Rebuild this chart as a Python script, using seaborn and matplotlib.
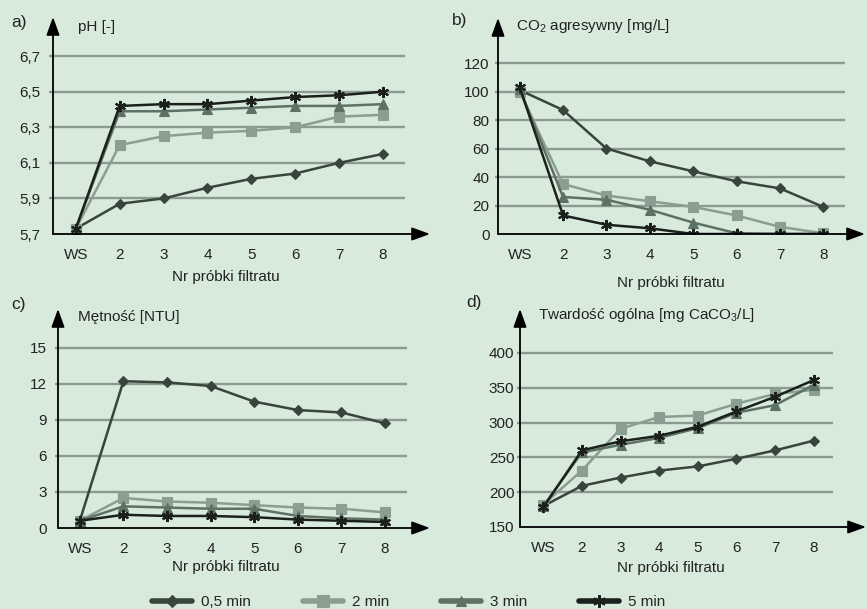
import numpy as np
import pandas as pd
import matplotlib
matplotlib.use('Agg')
import matplotlib.pyplot as plt
import seaborn as sns
from matplotlib.lines import Line2D

# Dane
kategorie = ['WS', '2', '3', '4', '5', '6', '7', '8']
serie = ['0,5 min', '2 min', '3 min', '5 min']

ph_05 = [5.73, 5.87, 5.90, 5.96, 6.01, 6.04, 6.10, 6.15]
ph_2 = [5.73, 6.20, 6.25, 6.27, 6.28, 6.30, 6.36, 6.37]
ph_3 = [5.73, 6.39, 6.39, 6.40, 6.41, 6.42, 6.42, 6.43]
ph_5 = [5.73, 6.42, 6.43, 6.43, 6.45, 6.47, 6.48, 6.50]

co2_05 = [101, 87, 60, 51, 44, 37, 32, 19]
co2_2 = [100, 35, 27, 23, 19, 13, 5, 0.5]
co2_3 = [102, 26, 24, 17, 8, 0.5, 0, 0]
co2_5 = [103, 13, 6.5, 4, 0, 0, 0, 0]

mut_05 = [0.6, 12.2, 12.1, 11.8, 10.5, 9.8, 9.6, 8.7]
mut_2 = [0.6, 2.5, 2.2, 2.1, 1.9, 1.7, 1.6, 1.3]
mut_3 = [0.6, 1.8, 1.7, 1.6, 1.6, 1.0, 0.8, 0.7]
mut_5 = [0.6, 1.1, 1.0, 1.0, 0.9, 0.7, 0.6, 0.5]

tw_05 = [180, 209, 221, 231, 237, 248, 260, 274]
tw_2 = [182, 231, 291, 308, 310, 327, 341, 347]
tw_3 = [180, 257, 268, 278, 292, 314, 325, 354]
tw_5 = [178, 260, 273, 281, 294, 316, 337, 361]

kolory = {'0,5 min': '#38453d', '2 min': '#8a9f91', '3 min': '#5d7264', '5 min': '#1b201d'}
markery = {'0,5 min': 'D', '2 min': 's', '3 min': '^', '5 min': 'X'}
rozmiary = {'0,5 min': 5.5, '2 min': 7.5, '3 min': 6.5, '5 min': 8}
gwiazdka = (6, 2, 0)  # marker serii 5 min

tlo = '#d7eadc'
siatka = '#8c9b90'

sns.set_style('white')
plt.rcParams['font.family'] = ['Liberation Sans', 'DejaVu Sans']
plt.rcParams['mathtext.fontset'] = 'custom'
plt.rcParams['mathtext.rm'] = 'Liberation Sans'

W, H = 867, 609
fig = plt.figure(figsize=(W / 100, H / 100), dpi=100, facecolor=tlo)


def panel_df(values):
    rows = []
    for s, vals in zip(serie, values):
        for i, v in enumerate(vals):
            rows.append({'nr': i, 'seria': s, 'wartosc': v})
    return pd.DataFrame(rows)


def px_axes(l, t, r, b):
    ax = fig.add_axes([l / W, 1 - b / H, (r - l) / W, (b - t) / H])
    ax.set_facecolor('none')
    return ax


def ftext(x, y, s, **kw):
    fig.text(x / W, 1 - y / H, s, **kw)


def draw_panel(ax, values, yticks, ylabels, xlim, ylim, ypad):
    df = panel_df(values)
    sns.lineplot(data=df, x='nr', y='wartosc', hue='seria', style='seria',
                 palette=kolory, markers=markery, dashes=False, lw=1.8,
                 ax=ax, legend=False, zorder=3)
    for line, s in zip(ax.lines, serie):
        c = kolory[s]
        if s == '5 min':
            line.set_marker(gwiazdka)
        line.set_markeredgecolor(c)
        line.set_markerfacecolor(c)
        line.set_markersize(rozmiary[s])
        line.set_markeredgewidth(1.5 if s == '5 min' else 0.8)
    ax.set_xlim(*xlim)
    ax.set_ylim(*ylim)
    for sp in ax.spines.values():
        sp.set_visible(False)
    # linie siatki
    ax.hlines(yticks[1:], xlim[0] - 0.08, 7.5, color=siatka, lw=1.7,
              zorder=1, clip_on=False)
    # osie ze strzalkami
    ax.annotate('', xy=(1, 0), xytext=(0, 0), xycoords='axes fraction',
                arrowprops=dict(arrowstyle='-|>,head_length=0.55,head_width=0.2',
                                color='black', lw=1.3, mutation_scale=20,
                                shrinkA=0, shrinkB=0))
    ax.annotate('', xy=(0, 1), xytext=(0, 0), xycoords='axes fraction',
                arrowprops=dict(arrowstyle='-|>,head_length=0.55,head_width=0.2',
                                color='black', lw=1.3, mutation_scale=20,
                                shrinkA=0, shrinkB=0))
    ax.set_xticks(range(len(kategorie)))
    ax.set_xticklabels(kategorie)
    ax.set_xticks(np.arange(0.5, 8, 1), minor=True)
    ax.tick_params(axis='x', which='major', length=0, pad=10, labelsize=11,
                   colors='#222222')
    ax.tick_params(axis='x', which='minor', length=3, width=0.8,
                   color='#8a8f8a', direction='out')
    ax.set_yticks(yticks)
    ax.set_yticklabels(ylabels)
    ax.tick_params(axis='y', length=0, pad=ypad, labelsize=11, colors='#222222')
    ax.set_xlabel('')
    ax.set_ylabel('')


# a) pH
ax_a = px_axes(53, 17, 430, 234)
draw_panel(ax_a, [ph_05, ph_2, ph_3, ph_5],
           [5.7, 5.9, 6.1, 6.3, 6.5, 6.7],
           ['5,7', '5,9', '6,1', '6,3', '6,5', '6,7'],
           (-0.52, 8.07), (5.7, 6.92), 9)

# b) CO2
ax_b = px_axes(498, 18, 865, 234)
draw_panel(ax_b, [co2_05, co2_2, co2_3, co2_5],
           [0, 20, 40, 60, 80, 100, 120],
           ['0', '20', '40', '60', '80', '100', '120'],
           (-0.5, 7.96), (0, 151.6), 6)

# c) metnosc
ax_c = px_axes(58, 309, 430, 528)
draw_panel(ax_c, [mut_05, mut_2, mut_3, mut_5],
           [0, 3, 6, 9, 12, 15],
           ['0', '3', '6', '9', '12', '15'],
           (-0.5, 8.03), (0, 18.2), 8)

# d) twardosc
ax_d = px_axes(520, 309, 866, 527)
draw_panel(ax_d, [tw_05, tw_2, tw_3, tw_5],
           [150, 200, 250, 300, 350, 400],
           ['150', '200', '250', '300', '350', '400'],
           (-0.6, 8.35), (150, 463), 4)

# opisy
lit = dict(fontsize=12.5, color='#222222', va='center', ha='left')
ftext(11, 22, 'a)', **lit)
ftext(452, 21, 'b)', **lit)
ftext(11, 304, 'c)', **lit)
ftext(466, 303, 'd)', **lit)

opis = dict(fontsize=11, color='#222222', va='center', ha='left')
ftext(78, 27, 'pH [-]', **opis)
ftext(516, 26, r'CO$_{\mathregular{2}}$ agresywny [mg/L]', **opis)
ftext(78, 317, 'Mętność [NTU]', **opis)
ftext(538, 315, r'Twardość ogólna [mg CaCO$_{\mathregular{3}}$/L]', **opis)

xl = dict(fontsize=11, color='#222222', va='center', ha='center')
ftext(226, 277, 'Nr próbki filtratu', **xl)
ftext(671, 283, 'Nr próbki filtratu', **xl)
ftext(226, 567, 'Nr próbki filtratu', **xl)
ftext(671, 568, 'Nr próbki filtratu', **xl)

# legenda
uchwyty = []
for s in serie:
    m = gwiazdka if s == '5 min' else markery[s]
    uchwyty.append(Line2D([0], [0], color=kolory[s], lw=4, marker=m,
                          ms=rozmiary[s] + 1, mec=kolory[s], mfc=kolory[s],
                          mew=1.5 if s == '5 min' else 0.8))
fig.legend(uchwyty, serie, ncol=4, loc='center',
           bbox_to_anchor=(409 / W, 1 - 602 / H), frameon=False,
           handlelength=2.6, handletextpad=0.6, columnspacing=3.4,
           fontsize=11, borderpad=0.1)

fig.savefig('out.png', dpi=100, facecolor=fig.get_facecolor())
